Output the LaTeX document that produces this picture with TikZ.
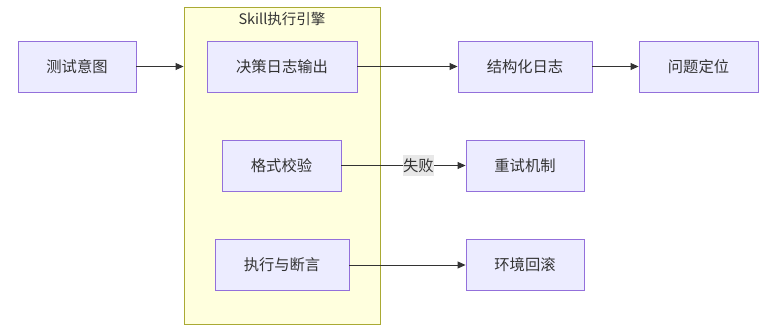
\documentclass[tikz,border=0pt]{standalone}
\usepackage{fontspec}
\setmainfont{Noto Sans CJK SC}
\usetikzlibrary{arrows.meta}
\definecolor{nodefill}{HTML}{ECECFF}
\definecolor{nodeline}{HTML}{9370DB}
\definecolor{clfill}{HTML}{FFFFDE}
\definecolor{clline}{HTML}{AAAA33}
\definecolor{edgecol}{HTML}{333333}
\definecolor{txt}{HTML}{333333}
\definecolor{lblbg}{HTML}{E8E8E8}
\tikzset{
  box/.style={draw=nodeline, fill=nodefill, line width=0.9pt, inner sep=0pt,
    text=txt, font=\fontsize{15.3}{18}\selectfont, minimum height=51pt},
  flow/.style={draw=edgecol, line width=0.9pt, -{Triangle[length=8pt,width=7pt]}},
  lbl/.style={fill=lblbg, text=txt, font=\fontsize{15.3}{18}\selectfont, inner sep=0.5pt, minimum height=21pt}
}
\begin{document}
\begin{tikzpicture}[x=1pt,y=-1pt]
\useasboundingbox (0,0) rectangle (776,332);
% cluster
\node[draw=clline, fill=clfill, line width=0.9pt, minimum width=196pt, minimum height=317pt, inner sep=0pt] (engine) at (282,165.5) {};
\node[text=txt, font=\fontsize{14.5}{17}\selectfont] (title) at (282,18.5) {Skill执行引擎};
% nodes
\node[box, minimum width=118pt] (intent) at (77,66.5) {测试意图};
\node[box, minimum width=150pt] (log) at (282,66.5) {决策日志输出};
\node[box, minimum width=134pt] (slog) at (525,66.5) {结构化日志};
\node[box, minimum width=119pt] (locate) at (698.5,66.5) {问题定位};
\node[box, minimum width=119pt] (fmt) at (281.5,165.5) {格式校验};
\node[box, minimum width=118pt] (retry) at (525,165.5) {重试机制};
\node[box, minimum width=134pt] (exec) at (282,265) {执行与断言};
\node[box, minimum width=118pt] (rollback) at (525,265) {环境回滚};
% edges
\draw[flow] (intent.east) -- (intent.east -| engine.west);
\draw[flow] (log) -- (slog);
\draw[flow] (slog) -- (locate);
\draw[flow] (fmt) -- node[lbl, pos=0.62] (fail) {失败} (retry);
\draw[flow] (exec) -- (rollback);
\end{tikzpicture}
\end{document}
